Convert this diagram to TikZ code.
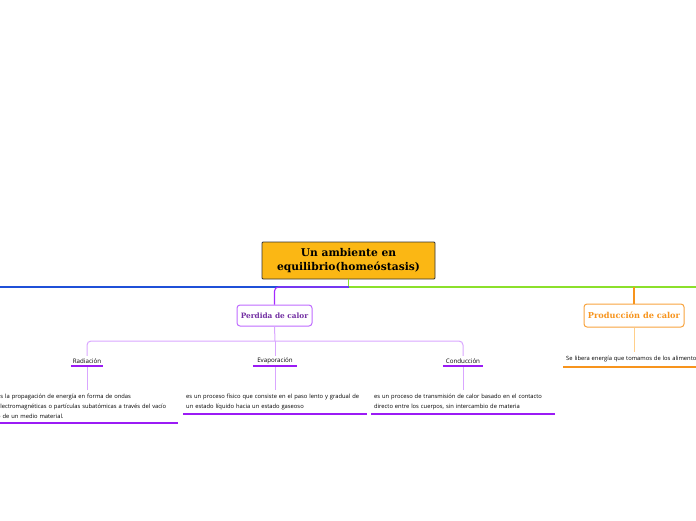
\documentclass[tikz,border=0pt]{standalone}
\usepackage{fontspec}
\setmainfont{DejaVu Serif}
\newfontfamily\notefont{Open Sans}
\definecolor{rootfill}{HTML}{FBB714}
\definecolor{mainblue}{HTML}{1F50D8}
\definecolor{maingreen}{HTML}{8BE02B}
\definecolor{mainviolet}{HTML}{A42BFF}
\definecolor{softviolet}{HTML}{D9A6FF}
\definecolor{deepviolet}{HTML}{9B1BF5}
\definecolor{perdtext}{HTML}{7330A3}
\definecolor{prodorange}{HTML}{F7941D}
\definecolor{softorange}{HTML}{FFCF8A}
\begin{document}
\begin{tikzpicture}[
    x=1pt,y=-1pt,
    every node/.style={font=\notefont\fontsize{5.8}{10}\selectfont},
    topic/.style={draw=black!80, fill=rootfill, line width=0.8pt, rounded corners=1pt,
        minimum width=173pt, minimum height=37pt, align=center,
        font=\bfseries\fontsize{10.7}{14}\selectfont},
    branch/.style={fill=white, rounded corners=3pt, line width=1pt},
    leaf/.style={inner sep=0pt, minimum height=10pt, font=\notefont\fontsize{6.2}{8}\selectfont},
    note/.style={anchor=north west, text width=178pt, inner xsep=3pt, inner ysep=0pt, align=left},
    uline/.style={line width=1.6pt},
    link/.style={line width=1.1pt},
    sublink/.style={line width=1pt, rounded corners=4pt}
]
    \useasboundingbox (0,0) rectangle (696,520);

    \node[topic] (root) at (348.5,260.5) {Un ambiente en\\equilibrio(homeóstasis)};
    \coordinate (hub) at (348.5,287);
    \coordinate (edgeL) at (-10,287);
    \coordinate (edgeR) at (706,287);
    \coordinate (bar) at (275,341);

    \node[branch, draw=mainviolet!70, text=perdtext, minimum width=75pt, minimum height=21pt,
        font=\bfseries\fontsize{7.35}{9}\selectfont] (perd) at (274.5,315.5) {Perdida de calor};
    \node[branch, draw=prodorange!85, text=prodorange, minimum width=100pt, minimum height=23pt,
        font=\bfseries\fontsize{8.2}{10}\selectfont] (prod) at (634,315.5) {Producción de calor};

    \node[leaf, minimum width=32pt] (rad) at (87,361) {Radiación};
    \node[leaf, minimum width=44pt] (evap) at (275,361) {Evaporación};
    \node[leaf, minimum width=40pt] (cond) at (463,361) {Conducción};

    \node[note, minimum height=32.5pt] (raddesc) at (-6,390) {es la propagación de energía en forma de ondas\\
        electromagnéticas o partículas subatómicas a través del vacío\\o de un medio material.};
    \node[note, minimum height=23.5pt] (evapdesc) at (183,390) {es un proceso físico que consiste en el paso lento y gradual de\\
        un estado líquido hacia un estado gaseoso};
    \node[note, minimum height=23.5pt] (conddesc) at (371,390) {es un proceso de transmisión de calor basado en el contacto\\
        directo entre los cuerpos, sin intercambio de materia};
    \node[note, minimum height=14.5pt] (proddesc) at (563,352) {Se libera energía que tomamos de los alimentos};

    % main branches
    \draw[link, maingreen] (root.south) -- (hub) -- (edgeR);
    \draw[link, mainblue] (hub) -- (edgeL);
    \draw[link, mainviolet, rounded corners=4pt] (hub) -| (perd.north);
    \draw[link, prodorange] (prod.north |- hub) -- (prod.north);

    % sub branches
    \draw[sublink, softviolet] (perd.south) -- (bar);
    \draw[sublink, softviolet] (rad.north) |- (bar) -| (cond.north);
    \draw[sublink, softviolet] (bar) -- (evap.north);
    \foreach \n in {rad,evap,cond} {
        \draw[sublink, softviolet] (\n.south) -- (\n.south |- \n desc.north);
        \draw[uline, deepviolet] (\n.south west) -- (\n.south east);
        \draw[uline, deepviolet] (\n desc.south west) -- (\n desc.south east);
    }
    \draw[sublink, softorange] (prod.south) -- (prod.south |- proddesc.north);
    \draw[uline, prodorange] (proddesc.south west) -- (proddesc.south east);
\end{tikzpicture}
\end{document}
